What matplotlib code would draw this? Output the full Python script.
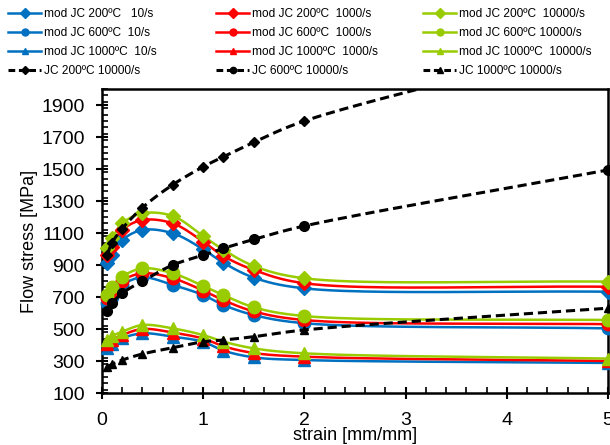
import numpy as np
import matplotlib
matplotlib.use('Agg')
import matplotlib.pyplot as plt
from matplotlib.ticker import MultipleLocator

plt.rcParams['font.family'] = ['Liberation Sans', 'DejaVu Sans']

strain = [0.05, 0.1, 0.2, 0.4, 0.7, 1.0, 1.2, 1.5, 2.0, 5.0]

mod200_10 = [910, 962, 1056, 1119, 1098, 998, 914, 821, 754, 733]
mod200_1000 = [962, 1014, 1119, 1181, 1160, 1046, 956, 869, 786, 764]
mod200_10000 = [1004, 1067, 1160, 1223, 1206, 1081, 995, 894, 817, 796]
mod600_10 = [660, 702, 775, 823, 775, 712, 650, 587, 536, 504]
mod600_1000 = [692, 733, 802, 848, 817, 740, 680, 610, 556, 530]
mod600_10000 = [712, 764, 827, 879, 848, 769, 712, 636, 581, 556]
mod1000_10 = [379, 406, 442, 473, 452, 420, 365, 323, 306, 288]
mod1000_1000 = [405, 431, 462, 500, 478, 440, 392, 350, 327, 300]
mod1000_10000 = [431, 456, 483, 525, 504, 462, 421, 379, 348, 315]

jc200 = [962, 1040, 1127, 1259, 1402, 1514, 1577, 1667, 1800, 2300]
jc600 = [612, 660, 723, 800, 900, 962, 1004, 1060, 1144, 1494]
jc1000 = [264, 280, 306, 344, 383, 420, 431, 452, 494, 630]


def smooth(x, y, n=40):
    # centripetal Catmull-Rom, worked out in (roughly) screen units
    kx, ky = 101.2, 0.16
    p = np.column_stack([np.asarray(x) * kx, np.asarray(y) * ky]).astype(float)
    p = np.vstack([2 * p[0] - p[1], p, 2 * p[-1] - p[-2]])
    out = []
    for i in range(1, len(p) - 2):
        p0, p1, p2, p3 = p[i - 1], p[i], p[i + 1], p[i + 2]
        t0 = 0.0
        t1 = t0 + np.linalg.norm(p1 - p0) ** 0.5
        t2 = t1 + np.linalg.norm(p2 - p1) ** 0.5
        t3 = t2 + np.linalg.norm(p3 - p2) ** 0.5
        t = np.linspace(t1, t2, n)[:, None]
        a1 = (t1 - t) / (t1 - t0) * p0 + (t - t0) / (t1 - t0) * p1
        a2 = (t2 - t) / (t2 - t1) * p1 + (t - t1) / (t2 - t1) * p2
        a3 = (t3 - t) / (t3 - t2) * p2 + (t - t2) / (t3 - t2) * p3
        b1 = (t2 - t) / (t2 - t0) * a1 + (t - t0) / (t2 - t0) * a2
        b2 = (t3 - t) / (t3 - t1) * a2 + (t - t1) / (t3 - t1) * a3
        c = (t2 - t) / (t2 - t1) * b1 + (t - t1) / (t2 - t1) * b2
        out.append(c if i == 1 else c[1:])
    out = np.vstack(out)
    return out[:, 0] / kx, out[:, 1] / ky


blue = '#0070C0'
red = '#FF0000'
green = '#99CC00'

fig = plt.figure(figsize=(6.1, 4.45), dpi=100)
ax = fig.add_axes([102 / 610, 52 / 445, 506 / 610, 304 / 445])

series = [
    (mod200_10, blue, 'D', 7.5, 'mod JC 200ºC   10/s'),
    (mod600_10, blue, 'o', 9, 'mod JC 600ºC  10/s'),
    (mod1000_10, blue, '^', 8, 'mod JC 1000ºC  10/s'),
    (mod200_1000, red, 'D', 7.5, 'mod JC 200ºC  1000/s'),
    (mod600_1000, red, 'o', 9, 'mod JC 600ºC  1000/s'),
    (mod1000_1000, red, '^', 8, 'mod JC 1000ºC  1000/s'),
    (mod200_10000, green, 'D', 7.5, 'mod JC 200ºC  10000/s'),
    (mod600_10000, green, 'o', 9, 'mod JC 600ºC 10000/s'),
    (mod1000_10000, green, '^', 8, 'mod JC 1000ºC  10000/s'),
]
jc_series = [
    (jc200, 'D', 5, 'JC 200ºC 10000/s'),
    (jc600, 'o', 7, 'JC 600ºC 10000/s'),
    (jc1000, '^', 6, 'JC 1000ºC 10000/s'),
]

handles = []
for vals, col, mk, ms, lab in series:
    sx, sy = smooth(strain, vals)
    ax.plot(sx, sy, color=col, lw=1.8, zorder=2)
    ax.plot(strain, vals, ls='none', marker=mk, ms=ms, color=col, zorder=3, clip_on=False)
    h, = ax.plot([], [], color=col, lw=1.8, marker=mk, ms=5)
    handles.append((h, lab))

for vals, mk, ms, lab in jc_series:
    sx, sy = smooth(strain, vals)
    ax.plot(sx, sy, color='black', lw=2.2, dashes=(3, 1.6), zorder=4)
    pts = [(a, b) for a, b in zip(strain, vals) if b <= 2000]
    ax.plot([p[0] for p in pts], [p[1] for p in pts], ls='none', marker=mk, ms=ms,
            color='black', zorder=5, clip_on=False)
    h, = ax.plot([], [], color='black', lw=2.2, dashes=(2.2, 1.2), marker=mk, ms=4.5)
    handles.append((h, lab))

ax.set_xlim(0, 5)
ax.set_ylim(100, 2000)
ax.set_yticks(range(100, 2000, 200))
ax.xaxis.set_major_locator(MultipleLocator(1))
ax.xaxis.set_minor_locator(MultipleLocator(0.2))
ax.yaxis.set_minor_locator(MultipleLocator(40))
ax.tick_params(which='major', direction='inout', length=9, width=1.5, labelsize=14)
ax.tick_params(axis='x', which='major', pad=9)
ax.tick_params(axis='y', which='major', pad=8)
ax.tick_params(which='minor', direction='in', length=4, width=1.2)
for s in ax.spines.values():
    s.set_linewidth(1.8)
ax.set_xlabel('strain [mm/mm]', fontsize=13, labelpad=-1)
ax.set_ylabel('Flow stress [MPa]', fontsize=13, labelpad=2)

# legend as three fixed-width columns
cols = [handles[0:3] + [handles[9]], handles[3:6] + [handles[10]], handles[6:9] + [handles[11]]]
xs = [8, 216, 423]
for x0, col in zip(xs, cols):
    leg = fig.legend([c[0] for c in col], [c[1] for c in col], loc='upper left',
                     bbox_to_anchor=(x0 / 610, 1 - 8 / 445), frameon=False, fontsize=8.6,
                     handlelength=2.8, handletextpad=0.25, labelspacing=0.6,
                     borderpad=0, borderaxespad=0)

fig.savefig('out.png', dpi=100)
